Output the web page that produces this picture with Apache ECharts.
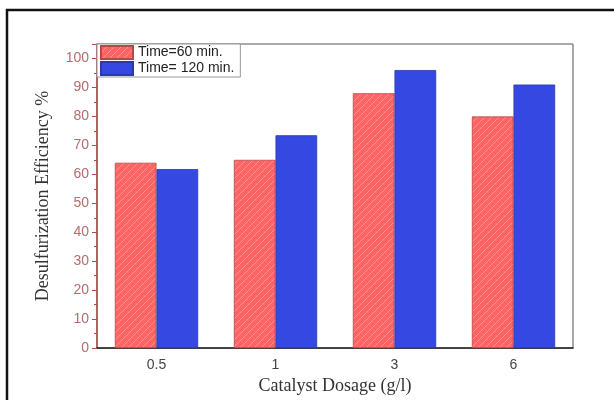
<!DOCTYPE html>
<html>
<head>
<meta charset="utf-8">
<script src="https://cdn.jsdelivr.net/npm/echarts@6/dist/echarts.min.js"></script>
<style>
  html, body { margin: 0; padding: 0; background: #fff; }
  #chart { width: 614px; height: 400px; }
</style>
</head>
<body>
<div id="chart"></div>
<script>
// catalyst dosage categories and efficiencies
const dosages = ['0.5', '1', '3', '6'];
const time60 = [64, 65, 88, 80];
const time120 = [61.8, 73.5, 96, 91];
const seriesNames = ['Time=60 min.', 'Time= 120 min.'];

// red hatch fill like the origin plot
function hatch() {
    const c = document.createElement('canvas');
    c.width = 7; c.height = 7;
    const ctx = c.getContext('2d');
    ctx.fillStyle = '#ff6464';
    ctx.fillRect(0, 0, 7, 7);
    ctx.strokeStyle = 'rgba(255,200,200,0.45)';
    ctx.lineWidth = 1;
    ctx.beginPath();
    ctx.moveTo(0, 7); ctx.lineTo(7, 0);
    ctx.moveTo(-1, 1); ctx.lineTo(1, -1);
    ctx.moveTo(6, 8); ctx.lineTo(8, 6);
    ctx.stroke();
    return c;
}

const chart = echarts.init(document.getElementById('chart'));

const option = {
    animation: false,
    backgroundColor: '#fff',
    graphic: [
        {
            type: 'rect',
            shape: { x: 7, y: 10, width: 640, height: 420 },
            style: { fill: 'none', stroke: '#111', lineWidth: 2.5 },
            silent: true
        }
    ],
    grid: {
        left: 97, right: 41, top: 44, bottom: 51,
        show: true, borderColor: '#555', borderWidth: 1
    },
    legend: {
        data: seriesNames,
        orient: 'vertical',
        left: 97, top: 44,
        icon: 'rect',
        itemWidth: 32, itemHeight: 13, itemGap: 1,
        padding: [1, 6, 1, 3],
        borderColor: '#999', borderWidth: 1,
        backgroundColor: '#fff',
        textStyle: { fontFamily: 'Liberation Sans', fontSize: 14, lineHeight: 14, color: '#222' }
    },
    xAxis: [
        {
            type: 'category',
            data: dosages,
            name: 'Catalyst Dosage (g/l)',
            nameLocation: 'middle',
            nameGap: 25,
            nameTextStyle: { fontFamily: 'Liberation Serif', fontSize: 18, color: '#333' },
            axisLine: { lineStyle: { color: '#222', width: 1.5 } },
            axisTick: { alignWithLabel: true, length: 5, lineStyle: { color: '#222', width: 1.5 } },
            axisLabel: { margin: 10, fontFamily: 'Liberation Sans', fontSize: 14, color: '#444' }
        },
        {
            // boundary ticks between categories
            type: 'category',
            data: dosages,
            position: 'bottom',
            axisLine: { show: false },
            axisTick: { length: 3, lineStyle: { color: '#222', width: 1 } },
            axisLabel: { show: false }
        }
    ],
    yAxis: {
        type: 'value',
        min: 0, max: 105, interval: 10,
        name: 'Desulfurization Efficiency %',
        nameLocation: 'middle',
        nameGap: 45,
        nameTextStyle: { fontFamily: 'Liberation Serif', fontSize: 18, color: '#333' },
        splitLine: { show: false },
        axisLine: { show: true, lineStyle: { color: '#b04c4c', width: 1.5 } },
        axisTick: { show: true, length: 5, lineStyle: { color: '#b04c4c' } },
        minorTick: { show: true, splitNumber: 2, length: 3, lineStyle: { color: '#b04c4c' } },
        axisLabel: {
            showMaxLabel: false,
            fontFamily: 'Liberation Sans', fontSize: 14, color: '#b86a6a',
            formatter: v => (v % 10 === 0 ? v : '')
        }
    },
    series: [
        {
            name: seriesNames[0],
            type: 'bar',
            data: time60,
            barGap: '0%',
            barCategoryGap: '30%',
            itemStyle: { color: { image: hatch(), repeat: 'repeat' }, borderColor: '#b84848', borderWidth: 0.8 }
        },
        {
            name: seriesNames[1],
            type: 'bar',
            data: time120,
            barGap: '0%',
            barCategoryGap: '30%',
            itemStyle: { color: '#3549e2', borderColor: '#2a38a8', borderWidth: 0.8 }
        }
    ]
};

chart.setOption(option);
</script>
</body>
</html>
